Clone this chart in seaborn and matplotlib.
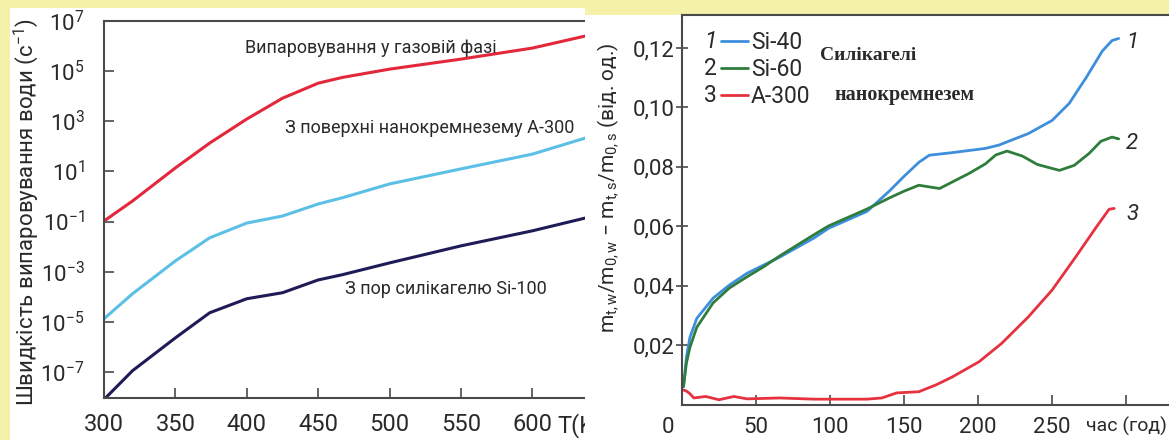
import matplotlib
matplotlib.use("Agg")
import matplotlib.pyplot as plt
import seaborn as sns
import numpy as np
import pandas as pd
from matplotlib.patches import Rectangle
from matplotlib.ticker import FixedLocator, FixedFormatter, LogFormatterMathtext, NullLocator

# ---------------- data: left panel (log10 of evaporation rate) ----------------
temp_K = [300, 320, 350, 374, 400, 425, 450, 467, 500, 550, 600, 637]
log_gas = [-0.98, -0.18, 1.14, 2.13, 3.09, 3.92, 4.52, 4.75, 5.08, 5.48, 5.92, 6.4]
log_a300 = [-4.88, -3.88, -2.57, -1.65, -1.06, -0.78, -0.3, -0.05, 0.5, 1.1, 1.69, 2.33]
log_si100 = [-8.1, -6.95, -5.64, -4.64, -4.08, -3.84, -3.33, -3.12, -2.65, -1.97, -1.37, -0.86]
left_xticks = [300, 350, 400, 450, 500, 550, 600]
left_yexp = [-7, -5, -3, -1, 1, 3, 5, 7]

# ---------------- data: right panel ----------------
t_si40 = [1, 3, 5.4, 10, 21, 32, 44, 55, 66, 89, 99, 125, 140, 150, 160, 167, 183, 205,
          214, 234, 250, 261.5, 273, 284, 290.5, 295]
v_si40 = [0.006, 0.016, 0.0227, 0.029, 0.0358, 0.0402, 0.0442, 0.0469, 0.0496, 0.056,
          0.0593, 0.065, 0.0718, 0.0768, 0.0815, 0.0839, 0.0848, 0.0862, 0.0873, 0.0912,
          0.0956, 0.1013, 0.110, 0.119, 0.1225, 0.1232]
t_si60 = [1, 3, 5.4, 10, 21, 32, 44, 55, 66, 89, 99, 125, 140, 150, 160, 174, 194, 205,
          212, 219.6, 230, 240, 255, 265, 275, 283, 290.5, 295]
v_si60 = [0.006, 0.014, 0.0193, 0.026, 0.0342, 0.0392, 0.043, 0.0463, 0.05, 0.0571,
          0.0601, 0.0658, 0.0695, 0.0718, 0.0738, 0.0727, 0.0778, 0.081, 0.084, 0.0853,
          0.0836, 0.0808, 0.0788, 0.0805, 0.0845, 0.0886, 0.09, 0.0894]
t_a300 = [1, 3, 5, 8, 16, 25, 35, 44, 66, 89, 110, 125, 135, 145, 160, 171.6, 182.7,
          200.7, 216, 234, 250, 266, 280, 288.5, 292]
v_a300 = [0.0049, 0.0045, 0.0038, 0.0022, 0.0027, 0.0016, 0.0027, 0.0019, 0.0022, 0.0018,
          0.0018, 0.0018, 0.0022, 0.0039, 0.0043, 0.0066, 0.0093, 0.0144, 0.0206, 0.0295,
          0.0385, 0.0497, 0.0598, 0.0657, 0.066]
right_xticks = [0, 50, 100, 150, 200, 250, 300]
right_xlabels = ["", "50", "100", "150", "200", "250", ""]
right_yticks = [0.02, 0.04, 0.06, 0.08, 0.10, 0.12]
right_ylabels = ["0,02", "0,04", "0,06", "0,08", "0,10", "0,12"]
series_names = ["Si-40", "Si-60", "A-300"]
series_nums = ["1", "2", "3"]

# ---------------- style ----------------
sns.set_theme(style="ticks")
plt.rcParams["font.family"] = ["Roboto", "DejaVu Sans"]
plt.rcParams["mathtext.fontset"] = "custom"
plt.rcParams["mathtext.rm"] = "Roboto"
plt.rcParams["mathtext.it"] = "Roboto:italic"
plt.rcParams["mathtext.bf"] = "Roboto:bold"
plt.rcParams["mathtext.default"] = "regular"

W, H = 1169, 440
BG = "#F5F1A8"
TXT = "#2a2a2a"
SPINE = "#4a4a4a"
fig = plt.figure(figsize=(W / 100, H / 100), dpi=100, facecolor=BG)

# white panel backgrounds
fig.patches.append(Rectangle((10 / W, 0), 575 / W, 432 / H, transform=fig.transFigure,
                             facecolor="white", edgecolor="none", zorder=-2))
fig.patches.append(Rectangle((585 / W, 0), (W - 585) / W, 425 / H, transform=fig.transFigure,
                             facecolor="white", edgecolor="none", zorder=1))

# ---------------- left panel ----------------
ax1 = fig.add_axes([104 / W, 1 - 398 / H, 481 / W, 377 / H], zorder=0)
ax1.set_facecolor("white")
n = len(temp_K)
left_df = pd.DataFrame({"T": temp_K * 3,
                        "rate": list(10.0 ** np.array(log_gas)) + list(10.0 ** np.array(log_a300))
                        + list(10.0 ** np.array(log_si100)),
                        "src": ["gas"] * n + ["a300"] * n + ["si100"] * n})
sns.lineplot(data=left_df, x="T", y="rate", hue="src",
             palette={"gas": "#E2283A", "a300": "#5CC0E6", "si100": "#1E1B57"},
             linewidth=2.2, ax=ax1, legend=False, estimator=None, sort=False)
ax1.set_yscale("log")
ax1.set_xlim(300, 636.8)
ax1.set_ylim(10 ** -8.04, 1e7)
ax1.xaxis.set_major_locator(FixedLocator(left_xticks))
ax1.xaxis.set_major_formatter(FixedFormatter([str(v) for v in left_xticks]))
ax1.yaxis.set_major_locator(FixedLocator([10.0 ** k for k in left_yexp]))
ax1.yaxis.set_major_formatter(LogFormatterMathtext())
ax1.yaxis.set_minor_locator(NullLocator())
ax1.xaxis.set_minor_locator(NullLocator())
ax1.tick_params(axis="x", direction="in", length=7, width=1.2, color=SPINE,
                labelsize=17, labelcolor=TXT, pad=11)
ax1.tick_params(axis="y", direction="in", length=7, width=1.2, color=SPINE,
                labelsize=16, labelcolor=TXT, pad=14)
for s in ["left", "bottom", "top"]:
    ax1.spines[s].set_color(SPINE)
    ax1.spines[s].set_linewidth(1.5)
ax1.spines["right"].set_visible(False)
ax1.set_xlabel("")
ax1.set_ylabel("Швидкість випаровування води (с$^{-1}$)", fontsize=16, color=TXT)
ax1.yaxis.set_label_coords(-0.13, 0.493)
trans, va, ha = ax1.get_xaxis_text1_transform(11)
ax1.text(617.5, 0, "T(K)", transform=trans, va=va, ha="left", fontsize=17, color=TXT)

ax1.text(486.7, 10 ** 5.92, "Випаровування у газовій фазі", ha="center", va="center",
         fontsize=13, color=TXT)
ax1.text(426.6, 10 ** 2.73, "З поверхні нанокремнезему А-300", ha="left", va="center",
         fontsize=13, color=TXT)
ax1.text(468.5, 10 ** -3.69, "З пор силікагелю Si-100", ha="left", va="center",
         fontsize=13, color=TXT)

# ---------------- right panel ----------------
ax2 = fig.add_axes([682 / W, 1 - 404.5 / H, 487 / W, 389.5 / H], zorder=2)
ax2.set_facecolor("white")
right_df = pd.DataFrame({"t": t_si40 + t_si60 + t_a300,
                         "v": v_si40 + v_si60 + v_a300,
                         "name": [series_names[0]] * len(t_si40) + [series_names[1]] * len(t_si60)
                         + [series_names[2]] * len(t_a300)})
pal = {"Si-40": "#3D8FDD", "Si-60": "#2F7D3C", "A-300": "#E6323F"}
sns.lineplot(data=right_df, x="t", y="v", hue="name", palette=pal, hue_order=series_names,
             linewidth=2.0, ax=ax2, estimator=None, sort=False)
ax2.set_xlim(0, 329)
ax2.set_ylim(0, 0.1311)
ax2.xaxis.set_major_locator(FixedLocator(right_xticks))
ax2.xaxis.set_major_formatter(FixedFormatter(right_xlabels))
ax2.yaxis.set_major_locator(FixedLocator(right_yticks))
ax2.yaxis.set_major_formatter(FixedFormatter(right_ylabels))
ax2.tick_params(axis="x", direction="in", length=7, width=1.2, color=SPINE,
                labelsize=16, labelcolor=TXT, pad=9)
ax2.tick_params(axis="y", direction="inout", length=9, width=1.2, color=SPINE,
                labelsize=16, labelcolor=TXT, pad=1)
for s in ["left", "bottom", "top"]:
    ax2.spines[s].set_color(SPINE)
    ax2.spines[s].set_linewidth(1.5)
ax2.spines["right"].set_visible(False)
ax2.set_xlabel("")
ax2.set_ylabel(r"$m_{t,w}/m_{0,w}$ − $m_{t,s}/m_{0,s}$ (від. од.)", fontsize=15, color=TXT)
ax2.yaxis.set_label_coords(-0.127, 0.556)
trans2, va2, ha2 = ax2.get_xaxis_text1_transform(9)
ax2.text(-9.5, 0, "0", transform=trans2, va=va2, ha="center", fontsize=16, color=TXT)
ax2.text(300, 0, "час (год)", transform=trans2, va=va2, ha="center", fontsize=14, color=TXT)

leg = ax2.legend(loc="upper left", bbox_to_anchor=(0.080, 0.958), frameon=False,
                 fontsize=16.5, handlelength=1.18, handletextpad=0.12, labelspacing=0.17,
                 borderpad=0, borderaxespad=0)
for tx in leg.get_texts():
    tx.set_color(TXT)
for ln in leg.get_lines():
    ln.set_linewidth(2.0)

# series numbers at line ends
end_vals = [0.1218, 0.088, 0.064]
for num, v in zip(series_nums, end_vals):
    ax2.text(304, v, num, ha="center", va="center", fontsize=16, style="italic", color=TXT)

ax2.text(0.283, 0.897, "Силікагелі", transform=ax2.transAxes, ha="left", va="center",
         fontsize=14, fontweight="bold", family=["Liberation Serif", "DejaVu Serif"], color=TXT)
ax2.text(0.314, 0.795, "нанокремнезем", transform=ax2.transAxes, ha="left", va="center",
         fontsize=14.5, fontweight="bold", family=["Liberation Serif", "DejaVu Serif"], color=TXT)

# legend numbers aligned to legend rows
fig.canvas.draw()
inv = ax2.transAxes.inverted()
for i, ln in enumerate(leg.get_lines()):
    bb = ln.get_window_extent(fig.canvas.get_renderer())
    yc = (bb.y0 + bb.y1) / 2
    xa, ya = inv.transform((bb.x0, yc))
    ax2.text(xa - 0.008, ya, series_nums[i], transform=ax2.transAxes, ha="right", va="center",
             fontsize=16.5, style="italic" if i == 0 else "normal", color=TXT)

fig.savefig("out.png", dpi=100, facecolor=BG)
